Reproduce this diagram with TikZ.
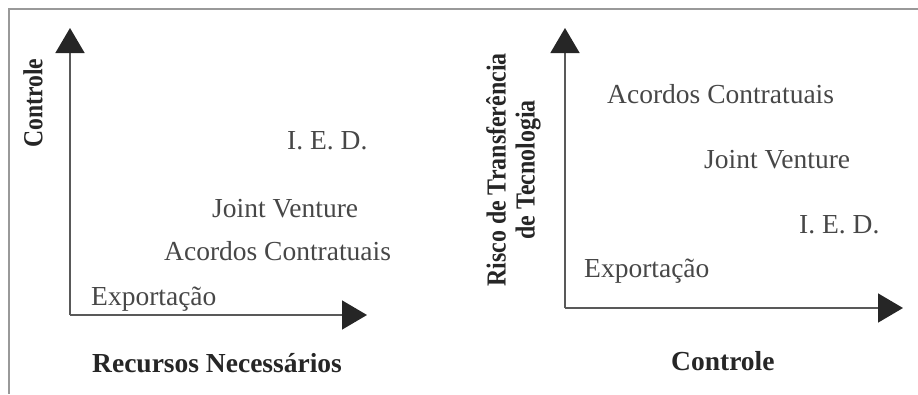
\documentclass[tikz,border=0pt]{standalone}
\usepackage{graphicx}
\usepackage{fontspec}
\setmainfont{Liberation Serif}
\usetikzlibrary{arrows.meta}
\begin{document}
\begin{tikzpicture}[x=1pt,y=-1pt,
  axis/.style={draw=black!65, line width=1.6pt,
    -{Triangle[length=25pt,width=29pt,color=black!85]}},
  item/.style={anchor=base west, inner sep=0pt,
    font=\fontsize{27.5}{30}\selectfont, text=black!72},
  title/.style={inner sep=0pt,
    font=\fontsize{27.5}{30}\selectfont\bfseries, text=black!85},
]
\useasboundingbox (0,0) rectangle (918,394);

% frame (top and left edges only)
\draw[black!40, line width=2pt] (918,9) -- (9,9) -- (9,394);

% ---- left chart: Controle vs Recursos Necessarios ----
\coordinate (o1) at (70,315);
\coordinate (y1) at (70,28);
\coordinate (x1) at (367,315);
\draw[axis] (o1) -- (y1);
\draw[axis] (o1) -- (x1);

\node[item] (ied1) at (287,149) {I. E. D.};
\node[item] (jv1)  at (212,217) {Joint Venture};
\node[item] (ac1)  at (164,260) {Acordos Contratuais};
\node[item] (ex1)  at (91,305)  {Exportação};

\node[title, anchor=base west] (xl1) at (92,372) {Recursos Necessários};
\node[title, rotate=90] (yl1) at (33,103) {\scalebox{0.86}[1]{Controle}};

% ---- right chart: Risco de Transferencia vs Controle ----
\coordinate (o2) at (565,308);
\coordinate (y2) at (565,28);
\coordinate (x2) at (903,308);
\draw[axis] (o2) -- (y2);
\draw[axis] (o2) -- (x2);

\node[item] (ac2)  at (607,103) {Acordos Contratuais};
\node[item] (jv2)  at (704,168) {Joint Venture};
\node[item] (ied2) at (799,233) {I. E. D.};
\node[item] (ex2)  at (584,277) {Exportação};

\node[title, anchor=base west] (xl2) at (671,370) {Controle};
\node[title, rotate=90] (yl2a) at (496,170) {\scalebox{0.87}[1]{Risco de Transferência}};
\node[title, rotate=90] (yl2b) at (528,170) {\scalebox{0.87}[1]{de Tecnologia}};
\end{tikzpicture}
\end{document}
